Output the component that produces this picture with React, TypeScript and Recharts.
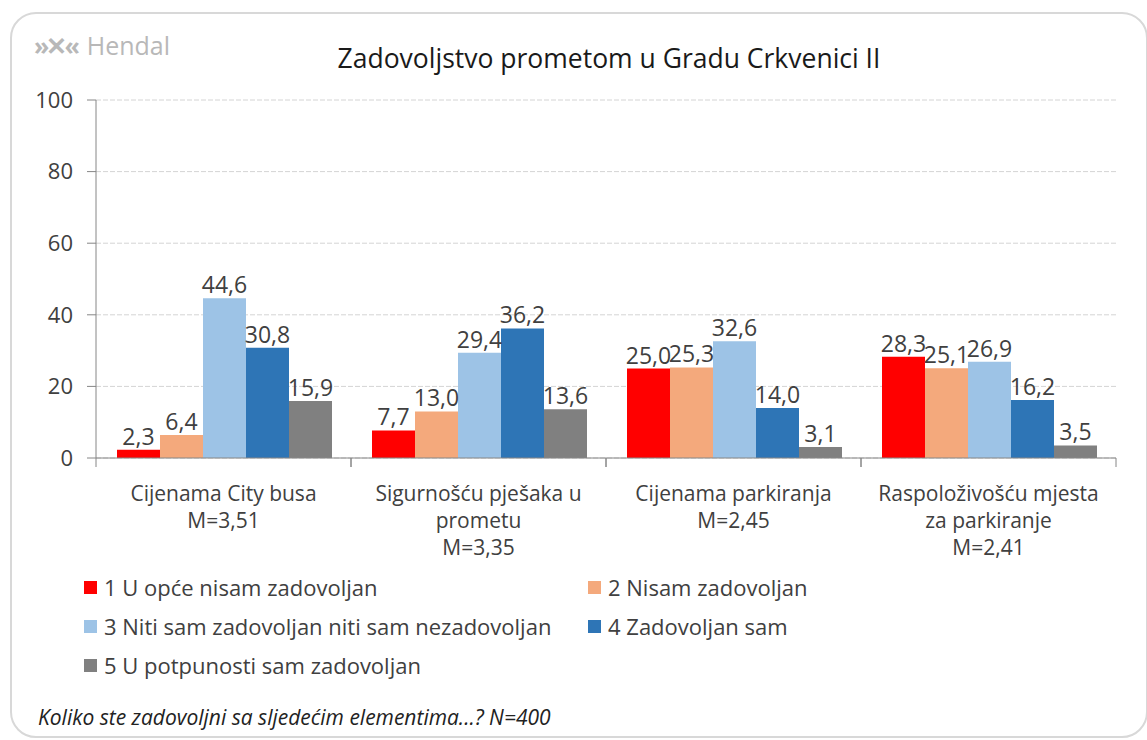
import React from 'react';
import { BarChart, Bar, XAxis, YAxis, CartesianGrid, LabelList } from 'recharts';

const categories = [
  ['Cijenama City busa', 'M=3,51'],
  ['Sigurnošću pješaka u', 'prometu', 'M=3,35'],
  ['Cijenama parkiranja', 'M=2,45'],
  ['Raspoloživošću mjesta', 'za parkiranje', 'M=2,41'],
];

const seriesNames = [
  '1 U opće nisam zadovoljan',
  '2 Nisam zadovoljan',
  '3 Niti sam zadovoljan niti sam nezadovoljan',
  '4 Zadovoljan sam',
  '5 U potpunosti sam zadovoljan',
];

const s1 = [2.3, 7.7, 25.0, 28.3];
const s2 = [6.4, 13.0, 25.3, 25.1];
const s3 = [44.6, 29.4, 32.6, 26.9];
const s4 = [30.8, 36.2, 14.0, 16.2];
const s5 = [15.9, 13.6, 3.1, 3.5];

const yTicks = [0, 20, 40, 60, 80, 100];

const colors = ['#FF0000', '#F4A97C', '#9DC3E6', '#2E75B6', '#808080'];
const keys = ['s1', 's2', 's3', 's4', 's5'];

const data = categories.map((c, i) => ({
  name: c.join('|'),
  s1: s1[i],
  s2: s2[i],
  s3: s3[i],
  s4: s4[i],
  s5: s5[i],
}));

const FONT = '"Open Sans", Lato, sans-serif';
const BAND = 255;

const fmt = (v: any) => Number(v).toFixed(1).replace('.', ',');

const CategoryTick = (props: any) => {
  const { x, y, payload } = props;
  const lines = String(payload.value).split('|');
  return (
    <g>
      <line x1={x - BAND / 2} y1={y - 8} x2={x - BAND / 2} y2={y + 1} stroke="#868686" />
      <line x1={x + BAND / 2} y1={y - 8} x2={x + BAND / 2} y2={y + 1} stroke="#868686" />
      {lines.map((l, i) => (
        <text
          key={i}
          x={x}
          y={y + 35 + i * 27}
          textAnchor="middle"
          fontSize={21}
          fill="#404040"
          fontFamily={FONT}
        >
          {l}
        </text>
      ))}
    </g>
  );
};

export default function App() {
  return (
    <div style={{ position: 'absolute', left: 0, top: 0, width: 1147, height: 740, background: '#fff', fontFamily: FONT }}>
      <div
        style={{
          position: 'absolute',
          left: 10,
          top: 12,
          width: 1134,
          height: 722,
          border: '2px solid #d8d8d8',
          borderRadius: 26,
        }}
      />
      <div style={{ position: 'absolute', left: 34, top: 28, fontSize: 25, color: '#b8b8b8' }}>
        <span style={{ fontWeight: 700, letterSpacing: -3, marginRight: 10 }}>{'»✕«'}</span>Hendal
      </div>
      <div style={{ position: 'absolute', left: 0, width: 1218, top: 40, textAlign: 'center', fontSize: 26.5, color: '#1a1a1a' }}>
        Zadovoljstvo prometom u Gradu Crkvenici II
      </div>

      <BarChart
        width={1147}
        height={740}
        data={data}
        margin={{ top: 100, right: 31, bottom: 182, left: 36 }}
        barGap={0}
        barCategoryGap={21}
        style={{ position: 'absolute', left: 0, top: 0 }}
      >
        <CartesianGrid vertical={false} stroke="#d4d4d4" strokeDasharray="5 2" />
        <XAxis
          dataKey="name"
          axisLine={{ stroke: '#868686' }}
          tickLine={false}
          tick={<CategoryTick />}
          interval={0}
          height={100}
        />
        <YAxis
          domain={[0, 100]}
          ticks={yTicks}
          width={60}
          axisLine={{ stroke: '#868686' }}
          tickLine={{ stroke: '#868686' }}
          tickSize={9}
          tickMargin={14}
          fontSize={22}
          tick={{ fontSize: 22, fill: '#404040', fontFamily: FONT }}
        />
        {keys.map((k, i) => (
          <Bar key={k} dataKey={k} name={seriesNames[i]} fill={colors[i]} isAnimationActive={false}>
            <LabelList
              dataKey={k}
              position="top"
              offset={5}
              formatter={fmt}
              fontSize={23}
              fill="#404040"
              fontFamily={FONT}
            />
          </Bar>
        ))}
      </BarChart>

      {seriesNames.map((n, i) => (
        <div
          key={n}
          style={{
            position: 'absolute',
            left: i % 2 === 0 ? 84 : 588,
            top: 572 + Math.floor(i / 2) * 39,
            fontSize: 22,
            color: '#404040',
            display: 'flex',
            alignItems: 'center',
          }}
        >
          <span style={{ width: 13, height: 13, background: colors[i], marginRight: 7, display: 'inline-block' }} />
          {n}
        </div>
      ))}

      <div style={{ position: 'absolute', left: 38, top: 703, fontSize: 21, fontStyle: 'italic', color: '#222' }}>
        Koliko ste zadovoljni sa sljedećim elementima...? N=400
      </div>
    </div>
  );
}
